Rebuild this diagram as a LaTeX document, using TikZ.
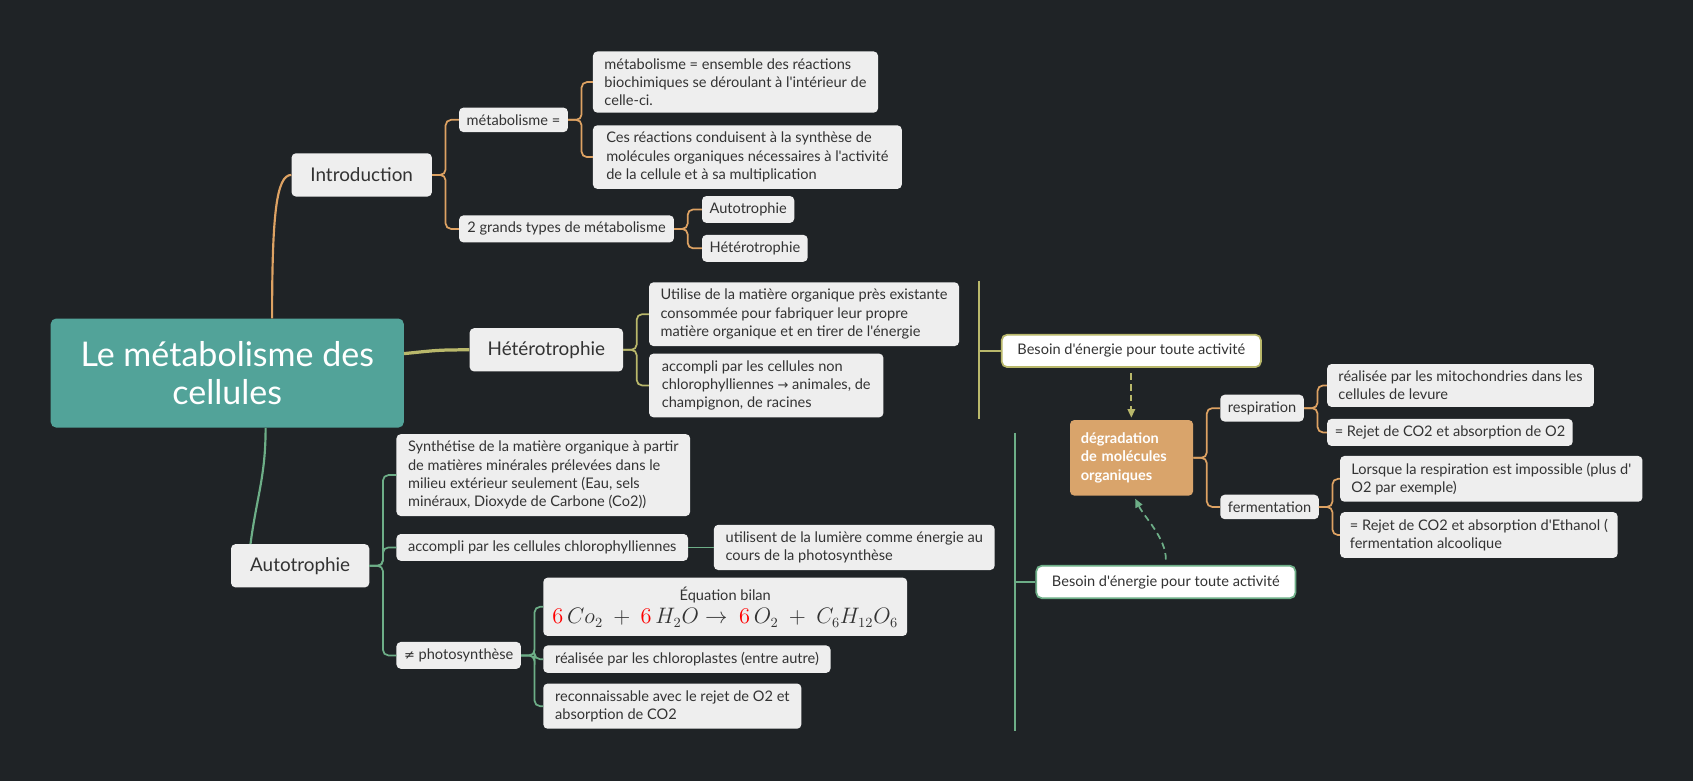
\documentclass[tikz,border=0pt]{standalone}
\usepackage{graphicx}
\usepackage{fontspec}
\usetikzlibrary{arrows.meta}
\newfontfamily\mapfont{Lato}
\newfontfamily\symfont{DejaVu Sans}
\definecolor{bg}{HTML}{1F2326}
\definecolor{teal}{HTML}{52A399}
\definecolor{orangeline}{HTML}{DDA263}
\definecolor{orangefill}{HTML}{D9A46B}
\definecolor{oliveline}{HTML}{B9B86B}
\definecolor{greenline}{HTML}{6DAE87}
\definecolor{boxgray}{HTML}{EEEEEE}
\definecolor{textdark}{HTML}{333333}

\begin{document}
\begin{tikzpicture}[x=1pt,y=-1pt,
    root/.style={rounded corners=5pt, fill=teal, text=white, align=center,
      minimum width=327pt, minimum height=101pt,
      font=\mapfont\fontsize{31.5}{35}\selectfont},
    topic/.style={rounded corners=4pt, fill=boxgray, text=textdark,
      minimum height=40pt, font=\mapfont\fontsize{17.5}{20}\selectfont},
    leaf/.style={rounded corners=4pt, fill=boxgray, text=textdark, anchor=west,
      inner xsep=7pt, inner ysep=6.3pt, align=left,
      font=\mapfont\fontsize{13.5}{17}\selectfont},
    summ/.style={rounded corners=5pt, fill=white, text=textdark, anchor=west,
      line width=1.6pt, minimum width=240pt, minimum height=30pt,
      font=\mapfont\fontsize{13.5}{17}\selectfont},
    degrbox/.style={rounded corners=4pt, fill=orangefill, text=white, align=left,
      minimum width=114pt, minimum height=70pt, text width=94pt,
      font=\mapfont\bfseries\fontsize{13.5}{17}\selectfont}
  ]

  \fill[bg] (0,0) rectangle (1568,723);

  % main topics
  \node[root] (root) at (210.5,345.5) {Le métabolisme des\\cellules};
  \node[topic, minimum width=130pt] (intro)  at (335,162) {Introduction};
  \node[topic, minimum width=142pt] (hetero) at (506,324) {Hétérotrophie};
  \node[topic, minimum width=128pt] (auto)   at (278,524) {Autotrophie};

  % introduction
  \node[leaf, minimum width=100pt] (meta)    at (425,111) {métabolisme =};
  \node[leaf, minimum width=199pt] (types)   at (425,212) {2 grands types de métabolisme};
  \node[leaf, minimum width=264pt] (meta1)   at (549,76)  {métabolisme = ensemble des réactions\\biochimiques se déroulant à l'intérieur de\\celle-ci.};
  \node[leaf, minimum width=286pt] (meta2)   at (549,145.5) {Ces réactions conduisent à la synthèse de\\molécules organiques nécessaires à l'activité\\de la cellule et à sa multiplication};
  \node[leaf, minimum width=83pt]  (typeA)   at (650,194) {Autotrophie};
  \node[leaf, minimum width=95pt]  (typeH)   at (650,230) {Hétérotrophie};

  % heterotrophie
  \node[leaf, minimum width=287pt] (het1)    at (601,291) {Utilise de la matière organique près existante\\consommée pour fabriquer leur propre\\matière organique et en tirer de l'énergie};
  \node[leaf, minimum width=217pt] (het2)    at (601,357) {accompli par les cellules non\\chlorophylliennes {\symfont\fontsize{12}{17}\selectfont →} animales, de\\champignon, de racines};
  \node[summ, draw=oliveline]      (summ1)   at (927,325) {Besoin d'énergie pour toute activité};

  % degradation
  \node[degrbox] (degr) at (1048,424) {dégradation\\de molécules\\organiques};
  \node[leaf, minimum width=76pt]  (resp)    at (1130,378)   {respiration};
  \node[leaf, minimum width=87pt]  (ferm)    at (1130,469.5) {fermentation};
  \node[leaf, minimum width=247pt] (resp1)   at (1229,357)   {réalisée par les mitochondries dans les\\cellules de levure};
  \node[leaf, minimum width=227pt] (resp2)   at (1229,400.5) {= Rejet de CO2 et absorption de O2};
  \node[leaf, minimum width=280pt] (ferm1)   at (1241,443.5) {Lorsque la respiration est impossible (plus d'\\O2 par exemple)};
  \node[leaf, minimum width=257pt] (ferm2)   at (1241,495.5) {= Rejet de CO2 et absorption d'Ethanol (\\fermentation alcoolique};

  % autotrophie
  \node[leaf, minimum width=272pt] (auto1)   at (367,440) {Synthétise de la matière organique à partir\\de matières minérales prélevées dans le\\milieu extérieur seulement (Eau, sels\\minéraux, Dioxyde de Carbone (Co2))};
  \node[leaf, minimum width=270pt] (auto2)   at (367,507) {accompli par les cellules chlorophylliennes};
  \node[leaf, minimum width=111pt] (auto3)   at (367,607) {{\symfont\fontsize{12}{17}\selectfont ≠} photosynthèse};
  \node[leaf, minimum width=260pt] (auto2a)  at (661,507) {utilisent de la lumière comme énergie au\\cours de la photosynthèse};
  \node[leaf, minimum width=337pt, minimum height=54pt, inner ysep=3pt, align=center] (eq) at (503,562) {Équation bilan\\[5pt]
    \resizebox{320pt}{!}{$\textcolor{red}{6}\,Co_2\ +\ \textcolor{red}{6}\,H_2O \rightarrow\ \textcolor{red}{6}\,O_2\ +\ C_6H_{12}O_6$}};
  \node[leaf, minimum width=266pt] (chloro)  at (503,610.5) {réalisée par les chloroplastes (entre autre)};
  \node[leaf, minimum width=239pt] (rejet)   at (503,654)   {reconnaissable avec le rejet de O2 et\\absorption de CO2};
  \node[summ, draw=greenline]      (summ2)   at (959,539) {Besoin d'énergie pour toute activité};

  % summary lines
  \coordinate (hsumtop) at (907,260);
  \coordinate (hsumbot) at (907,388);
  \coordinate (asumtop) at (940,401);
  \coordinate (asumbot) at (940,677);

  % main branches
  \draw[orangeline, line width=2pt] ([xshift=41.5pt]root.north)
    .. controls +(0,-95) and +(-14,0) .. (intro.west);
  \draw[oliveline, line width=3pt] ([yshift=18pt]root.east)
    .. controls +(30,-3) and +(-30,0) .. (hetero.west);
  \draw[greenline, line width=2pt] ([xshift=35.5pt]root.south)
    .. controls +(0,45) and +(6,-45) .. ([xshift=-46pt]auto.north);

  \begin{scope}[every edge/.style={draw, line width=1.6pt, rounded corners=5pt,
      to path={-- ++(12.5,0) |- (\tikztotarget)}}]
    \begin{scope}[orangeline]
      \path (intro.east) edge (meta.west) edge (types.west);
      \path (meta.east)  edge (meta1.west) edge (meta2.west);
      \path (types.east) edge (typeA.west) edge (typeH.west);
      \path (degr.east)  edge (resp.west) edge (ferm.west);
      \path (resp.east)  edge (resp1.west) edge (resp2.west);
      \path (ferm.east)  edge (ferm1.west) edge (ferm2.west);
    \end{scope}
    \begin{scope}[oliveline]
      \path (hetero.east) edge (het1.west) edge (het2.west);
    \end{scope}
    \begin{scope}[greenline]
      \path (auto.east)  edge (auto1.west) edge (auto2.west) edge (auto3.west);
      \path (auto3.east) edge (eq.west) edge (chloro.west) edge (rejet.west);
    \end{scope}
  \end{scope}
  \draw[greenline, line width=1.6pt] (auto2.east) -- (auto2a.west);

  \draw[oliveline, line width=1.6pt] (hsumtop) -- (hsumbot);
  \draw[oliveline, line width=1.6pt] (hsumtop |- summ1.west) -- (summ1.west);
  \draw[greenline, line width=1.6pt] (asumtop) -- (asumbot);
  \draw[greenline, line width=1.6pt] (asumtop |- summ2.west) -- (summ2.west);

  % dashed arrows
  \draw[oliveline, line width=1.6pt, dash pattern=on 6pt off 4pt,
    -{Triangle[length=8pt,width=7pt]}, shorten <=5pt, shorten >=2pt]
    (summ1.south) -- (summ1.south |- degr.north);
  \draw[greenline, line width=1.6pt, dash pattern=on 6pt off 4pt,
    -{Triangle[length=8pt,width=7pt]}, shorten <=5pt, shorten >=3pt]
    (summ2.north) .. controls +(0,-25) and +(10,20) .. ([xshift=2pt]degr.south);

\end{tikzpicture}
\end{document}
